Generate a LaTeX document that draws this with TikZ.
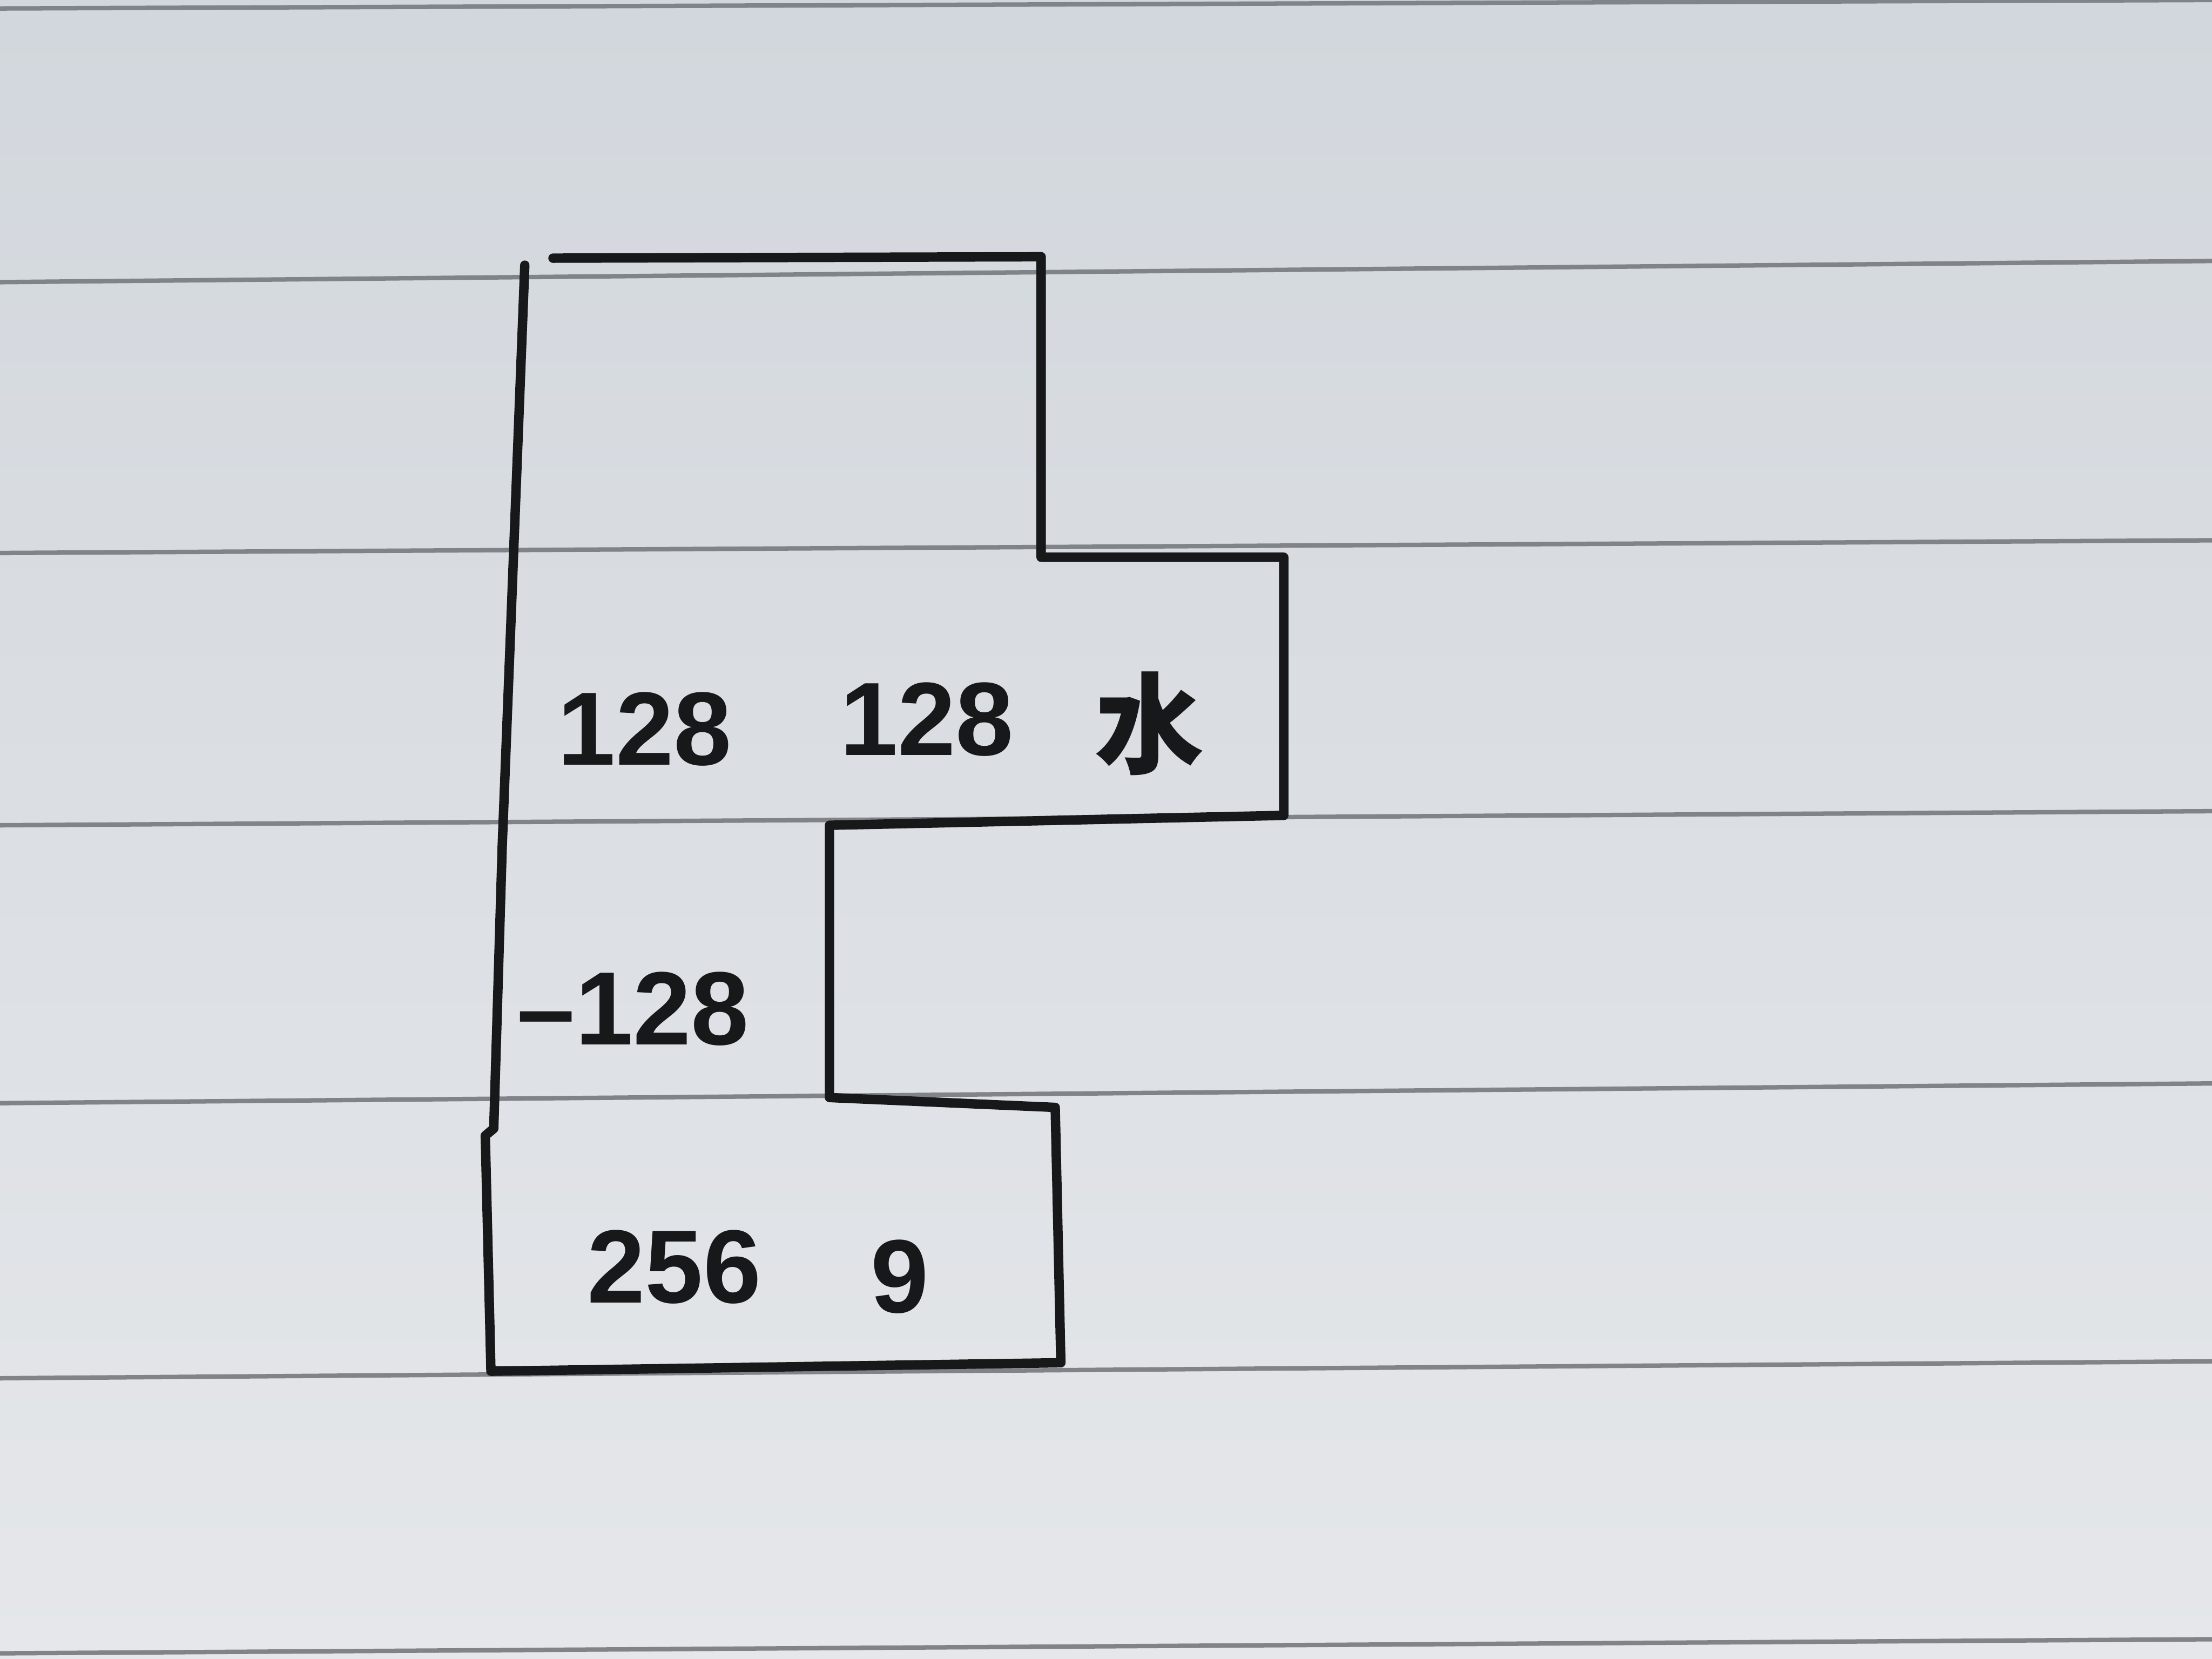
\documentclass[tikz,border=0pt]{standalone}
\usepackage{fontspec}
\setmainfont{Liberation Sans}
\newfontfamily\cjk{Noto Sans CJK SC}
\definecolor{paperTop}{RGB}{210,215,221}
\definecolor{paperBot}{RGB}{229,231,234}
\definecolor{ruleGray}{RGB}{128,132,137}
\definecolor{inkBlack}{RGB}{22,24,26}
\tikzset{
  ruled/.style={draw=ruleGray, line width=0.9pt},
  outline/.style={draw=inkBlack, line width=1.9pt, line join=round, line cap=round},
  hand/.style={inner sep=0pt, text=inkBlack, font=\fontsize{21}{26}\selectfont\bfseries}
}
\begin{document}
\begin{tikzpicture}[x=0.01cm,y=-0.01cm]
\shade[top color=paperTop, bottom color=paperBot] (0,0) rectangle (1568,1176);
\useasboundingbox (0,0) rectangle (1568,1176);
% ruled lines of the paper
\draw[ruled] (0,6) -- (1568,0);
\draw[ruled] (0,200) -- (1568,185);
\draw[ruled] (0,392) -- (1568,383);
\draw[ruled] (0,585) -- (1568,575);
\draw[ruled] (0,782) -- (1568,768);
\draw[ruled] (0,977) -- (1568,965);
\draw[ruled] (0,1172) -- (1568,1162);
% outline of the figure
\draw[outline] (372,188) -- (356,600) -- (350,800) -- (344,805) -- (348,972)
  -- (752,966) -- (748,785) -- (588,778)
  -- (588,585) -- (910,578) -- (910,395) -- (738,395) -- (738,182)
  -- (392,183);
% labels
\node[hand] (a1) at (457,517) {128};
\node[hand] (a2) at (657,510) {128};
\node[hand, font=\fontsize{22}{26}\selectfont\cjk\bfseries] (a3) at (815,513) {水};
\node[hand, anchor=west] (b1) at (366,715) {–128};
\node[hand] (c1) at (478,898) {256};
\node[hand] (c2) at (638,905) {9};
\end{tikzpicture}
\end{document}
